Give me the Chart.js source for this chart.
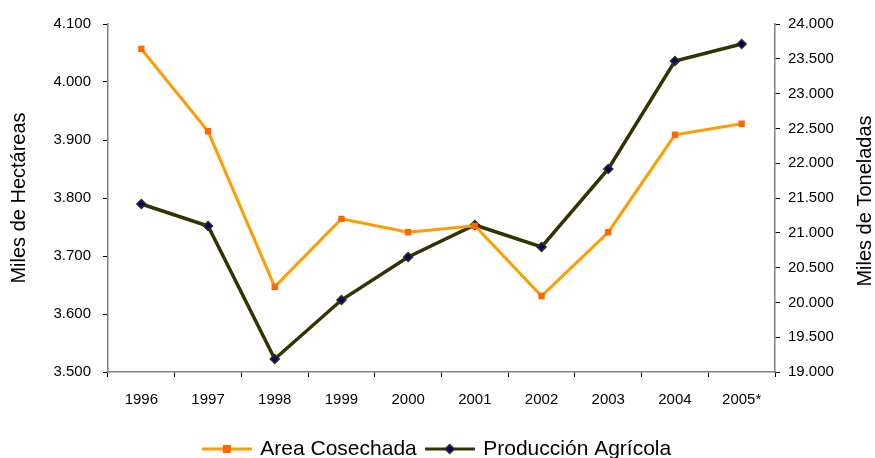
<!DOCTYPE html>
<html>
<head>
<meta charset="utf-8">
<script src="https://cdn.jsdelivr.net/npm/chart.js@4"></script>
<style>
  html, body { margin: 0; padding: 0; background: #fff; }
  #wrap { width: 875px; height: 458px; }
</style>
</head>
<body>
<div id="wrap"><canvas id="chart" width="875" height="458"></canvas></div>
<script>
const years = ["1996", "1997", "1998", "1999", "2000", "2001", "2002", "2003", "2004", "2005*"];
const areaCosechada = [4057, 3915, 3647, 3764, 3741, 3752, 3631, 3741, 3909, 3928];
const produccionAgricola = [21414, 21098, 19187, 20034, 20652, 21112, 20796, 21917, 23468, 23713];

const FONT = "'Liberation Sans', Arial, sans-serif";
const ORANGE_LINE = "#ff9c00";
const ORANGE_MARK = "#ff6600";
const OLIVE = "#333300";
const NAVY = "#000080";

function miles(v) {
  const n = Math.round(v);
  return Math.floor(n / 1000) + "." + String(n % 1000).padStart(3, "0");
}

// legend sample: a short line with the marker in the middle
function legendSample(lineColor, drawMarker) {
  const c = document.createElement("canvas");
  c.width = 50;
  c.height = 14;
  const g = c.getContext("2d");
  g.strokeStyle = lineColor;
  g.lineWidth = 3;
  g.beginPath();
  g.moveTo(0, 7);
  g.lineTo(50, 7);
  g.stroke();
  drawMarker(g, 25, 7);
  return c;
}

const areaSample = legendSample(ORANGE_LINE, (g, x, y) => {
  g.fillStyle = ORANGE_MARK;
  g.fillRect(x - 4, y - 4, 8, 8);
});
const prodSample = legendSample(OLIVE, (g, x, y) => {
  g.fillStyle = NAVY;
  g.strokeStyle = OLIVE;
  g.lineWidth = 1.5;
  g.beginPath();
  g.moveTo(x, y - 4.5);
  g.lineTo(x + 4.5, y);
  g.lineTo(x, y + 4.5);
  g.lineTo(x - 4.5, y);
  g.closePath();
  g.fill();
  g.stroke();
});

// right axis title reads bottom-to-top like the left one
const rightTitle = {
  id: "rightTitle",
  afterDraw(chart) {
    const { ctx, chartArea } = chart;
    ctx.save();
    ctx.translate(865, (chartArea.top + chartArea.bottom) / 2 + 3);
    ctx.rotate(-Math.PI / 2);
    ctx.font = "20px " + FONT;
    ctx.fillStyle = "#000";
    ctx.textAlign = "center";
    ctx.textBaseline = "middle";
    ctx.fillText("Miles de Toneladas", 0, 0);
    ctx.restore();
  },
};

const tickFont = { family: FONT, size: 15 };

new Chart(document.getElementById("chart"), {
  type: "line",
  data: {
    labels: years,
    datasets: [
      {
        label: "Area Cosechada",
        data: areaCosechada,
        yAxisID: "y",
        borderColor: ORANGE_LINE,
        borderWidth: 3,
        pointStyle: "rect",
        pointRadius: 4.5,
        pointBackgroundColor: ORANGE_MARK,
        pointBorderColor: ORANGE_MARK,
        pointBorderWidth: 0,
        tension: 0,
      },
      {
        label: "Producción Agrícola",
        data: produccionAgricola,
        yAxisID: "y1",
        borderColor: OLIVE,
        borderWidth: 3.5,
        pointStyle: "rectRot",
        pointRadius: 4.5,
        pointBackgroundColor: NAVY,
        pointBorderColor: OLIVE,
        pointBorderWidth: 1.5,
        tension: 0,
      },
    ],
  },
  options: {
    responsive: false,
    animation: false,
    layout: { padding: { top: 24, bottom: -11.5, left: 0, right: 0 } },
    plugins: {
      tooltip: { enabled: false },
      legend: {
        position: "bottom",
        labels: {
          color: "#000",
          font: { family: FONT, size: 21 },
          usePointStyle: true,
          pointStyleWidth: 46,
          padding: 10,
          generateLabels: () => [
            { text: "Area Cosechada", pointStyle: areaSample, fontColor: "#000", lineWidth: 0, datasetIndex: 0 },
            { text: "Producción Agrícola", pointStyle: prodSample, fontColor: "#000", lineWidth: 0, datasetIndex: 1 },
          ],
        },
      },
    },
    scales: {
      x: {
        offset: true,
        afterFit: (s) => { s.height = 56.5; },
        border: { color: "#808080", width: 1.5 },
        grid: { offset: true, drawOnChartArea: false, drawTicks: true, tickLength: 5, color: "#000" },
        ticks: { color: "#000", font: tickFont, padding: 14, maxRotation: 0 },
      },
      y: {
        position: "left",
        min: 3500,
        max: 4100,
        afterFit: (s) => { s.width = 108; },
        border: { color: "#808080", width: 1.5 },
        grid: { drawOnChartArea: false, tickLength: 5, color: "#000" },
        ticks: { stepSize: 100, color: "#000", font: tickFont, padding: 12, callback: (v) => miles(v) },
        title: { display: true, text: "Miles de Hectáreas", color: "#000", font: { family: FONT, size: 20 }, padding: { top: 7, bottom: 0 } },
      },
      y1: {
        position: "right",
        min: 19000,
        max: 24000,
        afterFit: (s) => { s.width = 100; },
        border: { color: "#808080", width: 1.5 },
        grid: { drawOnChartArea: false, tickLength: 5, color: "#000" },
        ticks: { stepSize: 500, color: "#000", font: tickFont, padding: 8, callback: (v) => miles(v) },
      },
    },
  },
  plugins: [rightTitle],
});
</script>
</body>
</html>
